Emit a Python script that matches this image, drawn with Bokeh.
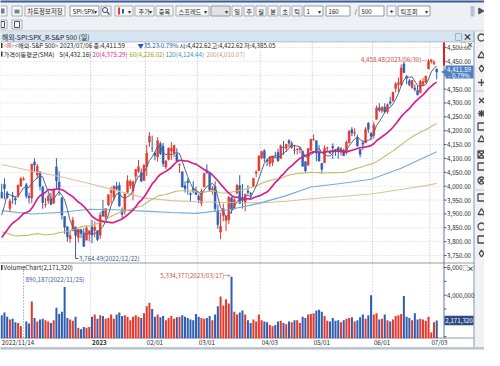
from bokeh.plotting import figure
from bokeh.models import Range1d, ColumnDataSource
from bokeh.embed import file_html
from bokeh.resources import INLINE
from bokeh.core.properties import value
import pandas as pd

# ---------------- data (S&P 500 daily, 2022/11/14 .. 2023/07/06) ----------------
# closes before the first visible bar, only used for the moving averages
prior_close = [4137.99, 4128.73, 4140.77, 4199.12, 4057.66, 4030.61, 3986.16, 3955.00,
               3966.85, 3924.26, 3908.19, 3979.87, 4006.18, 4067.36, 4110.41, 3932.69, 3946.01, 3901.35,
               3873.33, 3899.89, 3855.93, 3789.93, 3757.99, 3693.23, 3655.04, 3647.29, 3719.04, 3640.47, 3585.62,
               3678.43, 3790.93, 3783.28, 3744.52, 3639.66, 3612.39, 3588.84, 3577.03, 3669.91, 3583.07,
               3677.95, 3719.98, 3695.16, 3665.78, 3752.75, 3797.34, 3859.11, 3830.60, 3807.30, 3901.06, 3871.98,
               3856.10, 3759.69, 3719.89, 3770.55, 3806.80, 3828.11, 3748.57, 3956.37, 3992.93]

open_ = [3977.97, 4006.41, 3976.82, 3919.26, 3966.39, 3956.23, 3965.51, 4000.30, 4023.34, 4005.36, 3964.00, 3957.18,
         4087.14, 4040.17, 4052.02, 3996.63, 3933.28, 3947.79, 3954.17, 3939.29, 4069.38, 4015.54, 3958.37, 3890.91,
         3853.79, 3810.47, 3839.49, 3853.26, 3815.11, 3843.34, 3829.56, 3805.45, 3829.06,
         3853.29, 3840.36, 3839.74, 3823.37, 3910.82, 3888.57, 3932.35, 3977.57, 3960.60, 3999.28, 4002.25, 3911.84,
         3909.04, 3978.14, 4001.74, 3982.71, 4036.08, 4053.72, 4049.27, 4020.85,
         4070.07, 4158.68, 4136.69, 4119.57, 4105.35, 4153.47, 4144.25, 4068.92, 4096.62, 4126.70, 4119.50, 4114.75,
         4077.39, 4052.35, 4001.83, 4018.60, 3973.24, 3992.36, 3977.19,
         3963.34, 3938.68, 3998.02, 4055.15, 4048.26, 3987.55, 3998.66, 3912.77, 3835.12, 3894.01, 3876.74, 3878.93,
         3958.69, 3917.47, 3975.89, 4002.04, 3959.21, 3939.21, 3982.93, 3974.13, 3999.53, 4046.74, 4056.18,
         4102.20, 4128.03, 4094.50, 4081.15, 4085.20, 4110.29, 4121.72, 4100.04, 4140.11, 4137.17, 4164.26, 4139.33,
         4130.48, 4132.14, 4132.07, 4126.43, 4087.78, 4075.29, 4129.63,
         4166.79, 4164.10, 4122.25, 4082.61, 4084.73, 4136.98, 4124.25, 4143.74, 4132.24, 4138.54, 4126.65, 4127.95,
         4122.85, 4157.68, 4204.15, 4190.78, 4176.80, 4132.96, 4155.71, 4156.16, 4226.71, 4190.74,
         4183.03, 4241.01, 4282.99, 4271.34, 4285.47, 4268.69, 4304.88, 4308.32, 4352.61, 4366.29, 4365.33, 4440.95,
         4396.11, 4380.01, 4355.40, 4354.17, 4344.84, 4337.36, 4367.48, 4374.94, 4422.44,
         4450.48, 4442.04, 4422.62]

high = [4008.97, 4028.84, 3983.09, 3954.33, 3979.89, 3962.00, 4005.88, 4033.78, 4034.02, 4012.27, 3976.77, 4080.11,
        4100.51, 4080.48, 4052.45, 4001.51, 3957.57, 3974.19, 3977.02, 3990.71, 4100.96, 4053.76, 3958.37, 3890.91,
        3854.86, 3838.24, 3889.28, 3853.26, 3845.80, 3846.65, 3848.32, 3858.19, 3839.85,
        3878.46, 3873.16, 3839.74, 3906.19, 3950.57, 3919.83, 3970.07, 3997.76, 4003.95, 4015.39, 4014.16, 3922.94,
        3972.96, 4039.31, 4023.92, 4019.55, 4061.57, 4094.21, 4063.85, 4077.16,
        4148.95, 4195.44, 4182.36, 4124.63, 4176.54, 4160.67, 4156.23, 4094.36, 4138.90, 4159.77, 4148.11, 4136.54,
        4081.51, 4052.35, 4017.37, 4028.30, 3978.25, 4018.05, 3997.50,
        3971.73, 3990.84, 4048.29, 4078.49, 4050.00, 4000.41, 4017.81, 3934.05, 3905.05, 3937.29, 3894.26, 3964.46,
        3958.91, 3956.62, 4009.08, 4039.49, 4007.66, 3972.74, 4003.83, 3979.20, 4030.59, 4057.85, 4110.75,
        4127.66, 4133.13, 4099.69, 4107.32, 4109.50, 4124.26, 4134.37, 4150.26, 4163.19, 4151.72, 4169.48, 4162.57,
        4148.57, 4138.02, 4142.41, 4126.43, 4089.67, 4138.24, 4170.06,
        4186.92, 4164.10, 4148.30, 4082.61, 4147.02, 4142.30, 4130.35, 4154.28, 4132.80, 4143.74, 4141.25, 4135.54,
        4164.67, 4202.20, 4212.91, 4209.22, 4185.68, 4132.96, 4165.74, 4212.87, 4231.10, 4195.44,
        4232.43, 4290.67, 4299.28, 4288.33, 4299.19, 4298.01, 4322.62, 4340.13, 4375.37, 4391.82, 4439.20, 4448.47,
        4400.15, 4386.22, 4382.25, 4366.55, 4362.06, 4384.42, 4390.35, 4398.39, 4458.48,
        4456.46, 4454.06, 4422.62]

low = [3956.40, 3953.17, 3954.34, 3906.54, 3935.98, 3933.34, 3956.88, 3998.66, 4020.76, 3955.77, 3937.65, 3938.58,
       4050.87, 4026.63, 3984.49, 3918.39, 3922.68, 3935.83, 3933.04, 3935.30, 3993.03, 3965.65, 3879.45, 3827.91,
       3800.04, 3795.62, 3839.49, 3764.49, 3797.01, 3813.22, 3780.78, 3805.45, 3800.34,
       3794.33, 3815.77, 3802.42, 3809.56, 3890.42, 3877.29, 3928.54, 3937.56, 3947.67, 3984.57, 3926.59, 3885.54,
       3897.86, 3971.64, 3989.79, 3949.06, 4013.29, 4048.70, 4015.55, 4020.44,
       4037.20, 4141.88, 4123.36, 4093.38, 4088.39, 4111.86, 4069.67, 4060.79, 4092.67, 4095.01, 4103.98, 4089.49,
       4047.95, 3995.19, 3976.90, 3969.19, 3943.08, 3973.55, 3968.98,
       3939.05, 3928.16, 3995.17, 4044.61, 3980.31, 3969.76, 3908.70, 3846.32, 3808.86, 3873.63, 3838.24, 3864.11,
       3901.27, 3916.89, 3971.19, 3936.17, 3919.05, 3909.16, 3970.47, 3951.53, 3999.53, 4032.10, 4056.18,
       4097.35, 4086.87, 4072.56, 4069.84, 4072.55, 4102.61, 4086.94, 4099.40, 4113.20, 4123.18, 4140.36, 4134.49,
       4114.57, 4113.86, 4117.77, 4071.38, 4049.35, 4075.29, 4127.18,
       4164.12, 4089.72, 4088.86, 4048.28, 4084.73, 4123.81, 4116.65, 4098.92, 4109.29, 4099.12, 4110.27, 4109.86,
       4113.62, 4153.50, 4180.20, 4179.68, 4142.54, 4103.98, 4129.73, 4156.16, 4192.18, 4166.15,
       4171.64, 4241.01, 4266.82, 4263.09, 4263.96, 4261.07, 4291.70, 4304.37, 4337.66, 4337.85, 4362.60, 4407.44,
       4367.19, 4360.14, 4351.82, 4341.34, 4328.08, 4335.00, 4360.22, 4371.97, 4422.44,
       4442.29, 4436.61, 4385.05]

close = [3957.25, 3991.73, 3958.79, 3946.56, 3965.34, 3949.94, 4003.58, 4027.26, 4026.12, 3963.94, 3957.63, 4080.11,
         4076.57, 4071.70, 3998.84, 3941.26, 3933.92, 3963.51, 3934.38, 3990.56, 4019.65, 3995.32, 3895.75, 3852.36,
         3817.66, 3821.62, 3878.44, 3822.39, 3844.82, 3829.25, 3783.22, 3849.28, 3839.50,
         3824.14, 3852.97, 3808.10, 3895.08, 3892.09, 3919.25, 3969.61, 3983.17, 3999.09, 3990.97, 3928.86, 3898.85,
         3972.61, 4019.81, 4016.95, 4016.22, 4060.43, 4070.56, 4017.77, 4076.60,
         4119.21, 4179.76, 4136.48, 4111.08, 4164.00, 4117.86, 4081.50, 4090.46, 4137.29, 4136.13, 4147.60, 4090.41,
         4079.09, 3997.34, 3991.05, 4012.32, 3970.04, 3982.24, 3970.15,
         3951.39, 3981.35, 4045.64, 4048.42, 3986.37, 3992.01, 3918.32, 3861.59, 3855.76, 3919.29, 3891.93, 3960.28,
         3916.64, 3951.57, 4002.87, 3936.97, 3948.72, 3970.99, 3977.53, 3971.27, 4027.81, 4050.83, 4109.31,
         4124.51, 4100.60, 4090.38, 4105.02, 4109.11, 4108.94, 4091.95, 4146.22, 4137.64, 4151.32, 4154.87, 4154.52,
         4129.79, 4133.52, 4137.04, 4071.63, 4055.99, 4135.35, 4169.48,
         4167.87, 4119.58, 4090.75, 4061.22, 4136.25, 4138.12, 4119.17, 4137.64, 4130.62, 4124.08, 4136.28, 4109.90,
         4158.77, 4198.05, 4191.98, 4192.63, 4145.58, 4115.24, 4151.28, 4205.45, 4205.52, 4179.83,
         4221.02, 4282.37, 4273.79, 4283.85, 4267.52, 4293.93, 4298.86, 4338.93, 4369.01, 4372.59, 4425.84, 4409.59,
         4388.71, 4365.69, 4381.89, 4348.33, 4328.82, 4378.41, 4376.86, 4396.44, 4450.38,
         4455.59, 4446.82, 4411.59]

# volume in millions
volume_mil = [2.55, 2.75, 2.45, 2.25, 2.3, 2.05, 2.0, 1.75, 0.890187, 2.1, 1.95, 3.55,
              2.35, 2.1, 2.25, 2.3, 2.2, 2.1, 2.0, 2.2, 3.1, 2.65, 2.8, 4.6, 2.35, 2.25, 2.15, 2.45, 1.65, 1.55, 1.7, 1.65, 1.7,
              2.45, 2.6, 2.3, 2.55, 2.5, 2.3, 2.35, 2.6, 2.3, 2.6, 2.75, 2.5, 2.55, 2.45, 2.2, 2.45, 2.55, 2.45, 2.35, 2.7,
              3.2, 3.45, 3.0, 2.45, 2.6, 2.4, 2.5, 2.2, 2.35, 2.5, 2.3, 2.4, 2.45, 2.55, 2.45, 2.35, 2.25, 2.2, 2.65,
              2.45, 2.35, 2.3, 2.35, 2.5, 2.2, 2.6, 3.2, 3.9, 3.25, 3.7, 3.4, 5.334377, 2.8, 2.6, 2.75, 2.9, 2.6, 2.2, 2.0,
              2.25, 2.1, 2.6,
              2.2, 2.1, 2.05, 1.85, 1.75, 1.85, 2.1, 2.15, 2.0, 1.9, 2.1, 2.05, 2.2, 2.2, 2.0, 2.45, 2.35, 2.6, 2.65,
              2.7, 2.9, 2.95, 2.8, 2.5, 2.15, 2.1, 2.35, 2.15, 2.2, 2.05, 2.2, 2.3, 2.35, 2.4, 2.1, 2.2, 2.4, 2.6, 2.3,
              2.55, 4.0,
              2.6, 2.7, 2.25, 2.3, 2.6, 2.2, 2.1, 2.25, 2.5, 2.55, 2.65, 3.95, 2.45, 2.35, 2.2, 2.7, 2.25, 2.3, 2.25, 2.15,
              2.45,
              1.3, 2.05, 2.17132]

# long moving averages (bar index, value)
ma120_idx = [0, 11, 22, 32, 42, 52, 62, 71, 83, 94, 104, 113, 124, 135, 146, 156, 159]
ma120_val = [3912, 3900, 3906, 3917, 3915, 3910, 3905, 3902, 3915, 3938, 3966, 3997, 4010, 4025, 4065, 4111, 4124.44]
ma200_idx = [0, 11, 22, 32, 42, 52, 62, 71, 83, 94, 104, 113, 124, 135, 146, 156, 159]
ma200_val = [4078, 4055, 4033, 4010, 3984, 3958, 3948, 3944, 3941, 3940, 3946, 3955, 3963, 3972, 3988, 4004, 4010.07]

tick_idx = [0, 33, 53, 72, 95, 114, 136, 157]
tick_labels = ["2022/11/14", "2023", "02/01", "03/01", "04/03", "05/01", "06/01", "07/03"]
price_ticks = [3750, 3800, 3850, 3900, 3950, 4000, 4050, 4100, 4150, 4200, 4250, 4300, 4350, 4400, 4450, 4500]
vol_label_ticks = [6000000, 4000000]
vol_minor_ticks = [1000000, 2000000, 3000000, 4000000, 5000000, 6000000]
last_date = "2023/07/06"
hi_date, lo_date, vmax_date, vmin_date = "2023/06/30", "2022/12/22", "2023/03/17", "2022/11/25"

# ---------------- derived ----------------
n = len(close)
idx = list(range(n))
volume = [v * 1e6 for v in volume_mil]
allc = pd.Series(prior_close + close)
ma5 = allc.rolling(5).mean().iloc[-n:].tolist()
ma20 = allc.rolling(20).mean().iloc[-n:].tolist()
ma60 = allc.rolling(60).mean().iloc[-n:].tolist()

RED, BLUE = "#e5392e", "#2f5fb2"
col = [RED if c >= o else BLUE for o, c in zip(open_, close)]
src = ColumnDataSource(dict(i=idx, h=high, l=low, top=[max(o, c) for o, c in zip(open_, close)],
                            bot=[min(o, c) for o, c in zip(open_, close)], col=col, vol=volume))

# ---------------- geometry ----------------
W, H = 484, 350
OX = OY = 8
BAR_PX, BAR0 = 2.736, 1.2
K = 13.87 / 50.0          # px per index point
KV = 13.85 / 1e6          # px per share
PY0, VY0 = 47, 267        # fig y of 4500 and 6,000,000
FS = 6.2
TXT = "#262626"

KR = "Noto Sans CJK KR"

p = figure(width=W, height=H, x_range=Range1d(0, W), y_range=Range1d(H, 0),
           x_axis_type=None, y_axis_type=None, output_backend="svg", toolbar_location=None,
           min_border=0, outline_line_color=None, background_fill_color="#ffffff", border_fill_color="#ffffff")
p.extra_x_ranges = {"bar": Range1d(-BAR0 / BAR_PX, (W - BAR0) / BAR_PX)}
p.extra_y_ranges = {"price": Range1d(4500 - (H - PY0) / K, 4500 + PY0 / K),
                    "vol": Range1d(6e6 - (H - VY0) / KV, 6e6 + VY0 / KV)}


def Q(x0, y0, x1, y1, fill, line=None, lw=1):
    p.quad(left=[x0 - OX], right=[x1 - OX], top=[y0 - OY], bottom=[y1 - OY],
           fill_color=fill, line_color=line, line_width=lw)


def L(xs, ys, color, lw=1, dash="solid"):
    p.line(x=[v - OX for v in xs], y=[v - OY for v in ys], line_color=color, line_width=lw, line_dash=dash)


def T(x, y, s, color=TXT, size=FS, align="left", bold=False, xr="default", yr="default", xo=0, yo=0):
    p.text(x=[x], y=[y], text=[s], text_color=color, text_font=value(KR), text_font_size=f"{size}px",
           text_align=align, text_baseline="middle", text_font_style="bold" if bold else "normal",
           x_range_name=xr, y_range_name=yr, x_offset=xo, y_offset=yo)


def TS(x, y, s, color=TXT, size=FS, align="left", bold=False):
    T(x - OX, y - OY, s, color, size, align, bold)


def BTN(x0, x1, label="", y0=13, y1=24, fill="#f8f8f8", color="#222222", size=FS, bold=False):
    Q(x0 + 0.5, y0 + 0.5, x1 - 0.5, y1 - 0.5, fill, "#a4aebd")
    if label:
        TS((x0 + x1) / 2, (y0 + y1) / 2, label, color, size, "center", bold)


def COMBO(x0, x1, label, arrow=True, fill="#ffffff", color="#222222"):
    Q(x0 + 0.5, 13.5, x1 - 0.5, 23.5, fill, "#8e9aad")
    if label:
        TS(x0 + 3, 18.5, label, color)
    if arrow:
        TS(x1 - 4.5, 18.5, "▾", "#333333", 6, "center")


# ---------------- window chrome ----------------
Q(0, 0, 500, 366, "#eef0f3")
Q(0, 0, 500, 10, "#3d5c94")
L([0, 500], [38.5, 38.5], "#b9c4d3")
BTN(4, 15); Q(8.5, 16, 12, 21, "#6a7a90")
BTN(19, 30); Q(22, 17, 27, 21, "#7a8696")
BTN(32, 73, "차트정보저장", size=6.4)
COMBO(77, 107, "SPI:SPX")
BTN(108, 119)
p.scatter(x=[112.5 - OX], y=[17.5 - OY], marker="circle", size=5, fill_color=None, line_color="#444444")
L([114.5, 117], [19.5, 22], "#444444", 1.2)
BTN(122, 141)
Q(125.5, 15, 127.5, 22, RED); Q(129.5, 16.5, 131.5, 21, BLUE)
TS(136.5, 18.5, "▾", "#333333", 6, "center")
BTN(142, 162); TS(146, 18.5, "추가"); TS(158, 18.5, "▾", "#333333", 6, "center")
BTN(163, 181, "중복")
BTN(183, 217); TS(186, 18.5, "스프레드"); TS(213, 18.5, "▾", "#333333", 6, "center")
COMBO(218, 238, "", fill="#e2e2e2")
for x0, s in zip([239, 251, 263, 275, 287, 299], ["일", "주", "월", "분", "초", "틱"]):
    BTN(x0, x0 + 11, s)
COMBO(311, 331, "1")
COMBO(333, 358, "160", arrow=False)
TS(362, 18.5, "/")
COMBO(366, 392, "500", arrow=False)
BTN(394, 404, "+", bold=True)
COMBO(405, 438, "틱조회")
Q(478, 13.5, 482, 24, "#b8c2d0")
p.scatter(x=[488 - OX], y=[18.5 - OY], marker="triangle", angle=-1.5708, size=6,
          fill_color="#555555", line_color="#555555")
BTN(4, 15, "", 27, 37); Q(8.5, 29, 12, 35, None, "#555555")
BTN(19, 30, "", 27, 37); Q(22, 29, 27, 35, None, "#555555")

# chart title bar
Q(2, 39, 482, 49.5, "#d7e4f1")
L([2, 482], [49.5, 49.5], "#9cb1cc")
TS(9.5, 44, "해외-SPI:SPX_R-S&P 500 (일)", "#1e1e1e", 6.8)
TS(466, 44, "□", "#222222", 8, "center")
TS(475, 44, "×", "#222222", 9, "center", True)

# chart area and side toolbar
Q(2, 50, 482, 355, "#ffffff")
Q(482, 39, 500, 355, "#f2f2f2")
L([481.5, 481.5], [39, 355], "#7f97bb")
side = ColumnDataSource(dict(
    x=[489 - OX] * 16,
    y=[v - OY for v in [45, 63, 76, 90, 108, 121, 134, 147, 162, 174, 188, 205, 220, 234, 247, 261]],
    m=["circle", "triangle", "diamond", "cross", "x", "asterisk", "square", "triangle", "square_x", "square",
       "circle_x", "square", "triangle", "circle", "square", "diamond"]))
p.scatter(x="x", y="y", marker="m", size=7, fill_color=None, line_color="#4a4a4a", line_width=1.3, source=side)
L([483, 500], [98.5, 98.5], "#c4c4c4")
L([483, 500], [197.5, 197.5], "#c4c4c4")
Q(0, 355, 500, 366, "#d6dee8")
L([0, 500], [355.5, 355.5], "#9aa5b5")

# ---------------- grid ----------------
gx = [i - 0.5 for i in tick_idx[1:]]
p.segment(x0=[0] * len(price_ticks), x1=[451 - OX] * len(price_ticks), y0=price_ticks, y1=price_ticks,
          y_range_name="price", line_color="#d2d2d2", line_dash="1 2", line_width=1)
p.segment(x0=gx, x1=gx, y0=[50 - OY] * len(gx), y1=[270 - OY] * len(gx), x_range_name="bar",
          line_color="#b4b4b4", line_dash="1 2", line_width=1)
p.segment(x0=gx, x1=gx, y0=[271 - OY] * len(gx), y1=[345 - OY] * len(gx), x_range_name="bar",
          line_color="#c4c4c4", line_dash="1 2", line_width=1)

# panel borders
L([2, 482], [270.5, 270.5], "#9a9a9a")
L([2, 482], [345.5, 345.5], "#9a9a9a")
L([451.5, 451.5], [50, 346], "#5a7bb0")

# ---------------- candles, volume, moving averages ----------------
p.segment(x0="i", y0="l", x1="i", y1="h", color="col", line_width=1, source=src,
          x_range_name="bar", y_range_name="price")
p.vbar(x="i", width=0.7, top="top", bottom="bot", fill_color="col", line_color="col", line_width=0.5,
       source=src, x_range_name="bar", y_range_name="price")
vfloor = min(volume)
p.vbar(x="i", width=0.74, top="vol", bottom=vfloor, fill_color="col", line_color=None,
       source=src, x_range_name="bar", y_range_name="vol")

p.line(x=ma200_idx, y=ma200_val, line_color="#dcc0a0", line_width=1.1, x_range_name="bar", y_range_name="price")
p.line(x=ma120_idx, y=ma120_val, line_color="#6fb0d6", line_width=1.1, x_range_name="bar", y_range_name="price")
p.line(x=idx, y=ma60, line_color="#c3bb6c", line_width=1.1, x_range_name="bar", y_range_name="price")
p.line(x=idx, y=ma20, line_color="#d4208c", line_width=1.7, x_range_name="bar", y_range_name="price")
p.line(x=idx, y=ma5, line_color="#53667e", line_width=1.0, x_range_name="bar", y_range_name="price")

# ---------------- info lines ----------------
chg = close[-1] - close[-2]
pct = chg / close[-2] * 100
Q(8.5, 50.5, 10, 55.5, "#333333")
TS(11, 53, "<R>", "#d23c3c")
TS(22, 53, f"<해외-S&P 500> {last_date} 종:{close[-1]:,.2f}")
TS(145, 53, f"▼{abs(chg):,.2f}", "#2650b8")
TS(166, 53, f"{pct:.2f}%", "#2650b8")
TS(187, 53, f"시:{open_[-1]:,.2f}")
TS(219, 53, f"고:{high[-1]:,.2f}")
TS(251.5, 53, f"저:{low[-1]:,.2f}")
Q(8.5, 59, 10, 64, "#333333")
TS(11, 61.5, "가격이동평균(SMA)")
TS(67, 61.5, f"5({ma5[-1]:,.2f})")
TS(100, 61.5, f"20({ma20[-1]:,.2f})", "#d0288c")
TS(137, 61.5, f"60({ma60[-1]:,.2f})", "#a39e2a")
TS(173, 61.5, f"120({ma120_val[-1]:,.2f})", "#3593c4")
TS(214, 61.5, f"200({ma200_val[-1]:,.2f})", "#c39a72")

# ---------------- price axis ----------------
npt = len(price_ticks)
p.segment(x0=[451.5 - OX] * npt, x1=[454 - OX] * npt, y0=price_ticks, y1=price_ticks,
          y_range_name="price", line_color="#555555")
p.text(x=[454.5 - OX] * npt, y=price_ticks, text=[f"{v:,.2f}" for v in price_ticks], y_range_name="price",
       text_color=TXT, text_font=value(KR), text_font_size=f"{FS}px", text_baseline="middle")
Q(467.5, 49.8, 481, 53.8, "#ffffff")
TS(471, 51.8, "□", "#333333", 6, "center")
TS(477.5, 51.8, "×", "#333333", 7, "center", True)
L([451.5, 451.5], [50, 73], "#e02020", 2)
box_h = 6.5 / K
p.quad(left=[453 - OX], right=[481 - OX], top=[close[-1] + box_h], bottom=[close[-1] - box_h],
       y_range_name="price", fill_color="#4f7ec2", line_color=None)
p.scatter(x=[452 - OX], y=[close[-1]], marker="triangle", angle=1.5708, size=6, y_range_name="price",
          fill_color="#4f7ec2", line_color=None)
T(466.5 - OX, close[-1], f"{close[-1]:,.2f}", "#ffffff", FS, "center", yr="price", yo=-3)
T(466.5 - OX, close[-1], f"- {abs(pct):.2f}%", "#ffffff", FS, "center", yr="price", yo=3.3)

# ---------------- volume axis ----------------
nv = len(vol_minor_ticks)
p.segment(x0=[451.5 - OX] * nv, x1=[454 - OX] * nv, y0=vol_minor_ticks, y1=vol_minor_ticks,
          y_range_name="vol", line_color="#555555")
p.text(x=[454.5 - OX] * len(vol_label_ticks), y=vol_label_ticks, text=[f"{v:,}" for v in vol_label_ticks],
       y_range_name="vol", text_color=TXT, text_font=value(KR), text_font_size=f"{FS}px",
       text_baseline="middle")
Q(470, 272, 481, 278.5, "#ffffff")
TS(473, 275, "□", "#333333", 6, "center")
TS(478, 275, "×", "#333333", 7, "center", True)
vb = 4.8 / KV
p.quad(left=[452 - OX], right=[481 - OX], top=[volume[-1] + vb], bottom=[volume[-1] - vb],
       y_range_name="vol", fill_color="#2e4a80", line_color=None)
T(466.5 - OX, volume[-1], f"{int(round(volume[-1])):,}", "#ffffff", FS, "center", yr="vol")
Q(8.5, 272.5, 10, 277.5, "#333333")
TS(11, 275, f"VolumeChart({int(round(volume[-1])):,})")

# ---------------- date labels ----------------
for i, s in zip(tick_idx, tick_labels):
    T(i - 0.5, 350 - OY, s, TXT, FS, "left", bold=(s == "2023"), xr="bar", xo=1.5)

# ---------------- annotations ----------------
i_hi = high.index(max(high))
T(i_hi, max(high), f"{max(high):,.2f}({hi_date})—", "#cf4a3a", FS, "right", xr="bar", yr="price", xo=-1.5)
i_lo = low.index(min(low))
y_lo_txt = 4500 - (266 - 55) / K
p.segment(x0=[i_lo, i_lo], y0=[min(low), y_lo_txt], x1=[i_lo, i_lo + 1.0], y1=[y_lo_txt, y_lo_txt],
          line_color="#3c5a9c", line_width=1, x_range_name="bar", y_range_name="price")
T(i_lo, y_lo_txt, f"{min(low):,.2f}({lo_date})", "#3c5a9c", FS, "left", xr="bar", yr="price", xo=3.5)
i_vmax = volume.index(max(volume))
T(i_vmax, 283 - OY, f"{int(round(max(volume))):,}({vmax_date})→", "#c8503c", FS, "right", xr="bar", xo=-1)
i_vmin = volume.index(min(volume))
p.segment(x0=[i_vmin], x1=[i_vmin], y0=[278 - OY], y1=[345 - OY], x_range_name="bar",
          line_color="#6a7a9a", line_dash="1 2", line_width=1)
T(i_vmin, 287 - OY, f"{int(round(min(volume))):,}({vmin_date})", "#3c5a9c", FS, "left", xr="bar", xo=2)

open("out.html", "w").write(file_html(p, INLINE))
